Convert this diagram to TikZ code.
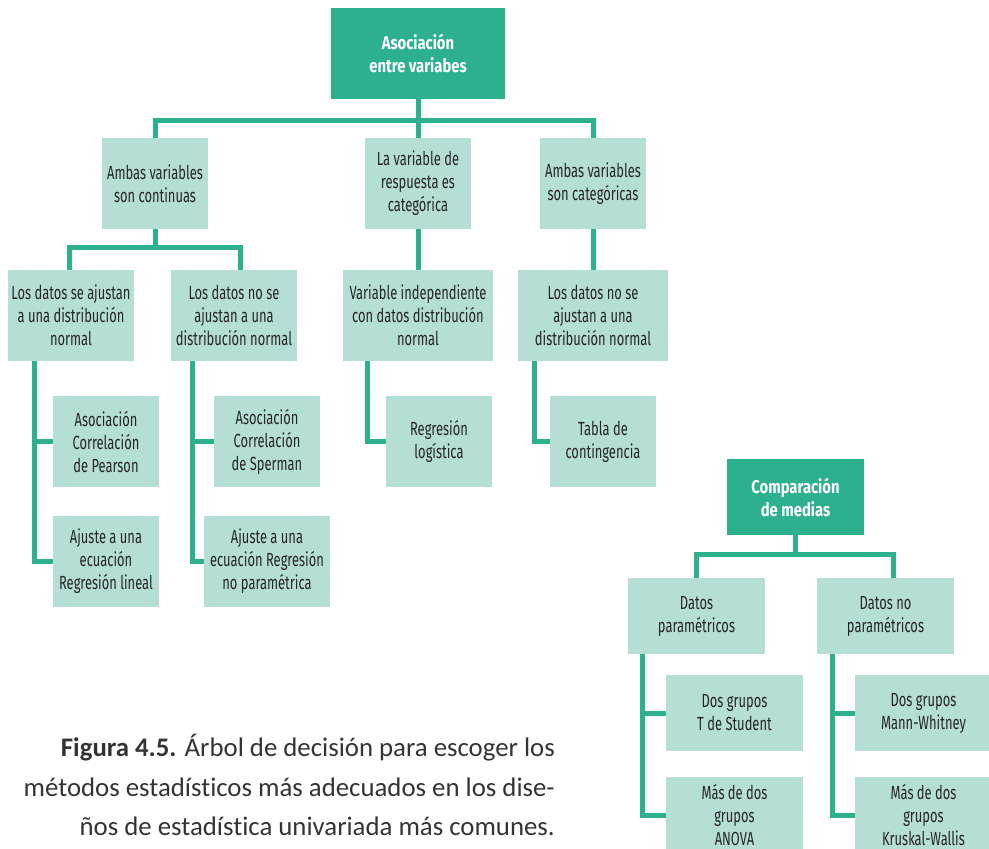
\documentclass[tikz,border=0pt]{standalone}
\usepackage{fontspec}
\setmainfont{Carlito}[Ligatures=NoCommon]
\newfontfamily\boxfont[FakeStretch=0.68]{Fira Sans}
\newfontfamily\rootfont[FakeStretch=0.8]{Fira Sans}
\usetikzlibrary{calc}
\definecolor{tealdark}{HTML}{2DB08C}
\definecolor{teallight}{HTML}{B5DED5}
\definecolor{ink}{HTML}{262626}
\definecolor{captionink}{HTML}{333333}
\tikzset{
  box/.style={fill=teallight, text=ink, inner sep=0pt, align=center,
    font=\boxfont\fontsize{19}{23}\selectfont},
  rootbox/.style={fill=tealdark, text=white, inner sep=0pt, align=center,
    font=\rootfont\bfseries\fontsize{18.5}{23}\selectfont},
  conn/.style={draw=tealdark, line width=5pt, line join=miter},
  wA/.style={minimum width=106pt, minimum height=91pt},
  wB/.style={minimum width=126pt, minimum height=91pt},
  wC/.style={minimum width=150pt, minimum height=91pt},
  wD/.style={minimum width=137pt, minimum height=76pt},
}
\begin{document}
\begin{tikzpicture}[x=1pt,y=-1pt]
\useasboundingbox (0,0) rectangle (989,849);

% ---- tree 1: association between variables ----
\node[rootbox, minimum width=174pt, minimum height=91pt] (root) at (418,53.5) {Asociación\\entre variabes};

\node[box, wA] (c1) at (155,183.5) {Ambas variables\\son continuas};
\node[box, wA] (c2) at (418,183.5) {La variable de\\respuesta es\\categórica};
\node[box, wA] (c3) at (593,183.5) {Ambas variables\\son categóricas};

\node[box, wB] (d1) at (71,315.5) {Los datos se ajustan\\a una distribución\\normal};
\node[box, wB] (d2) at (234,315.5) {Los datos no se\\ajustan a una\\distribución normal};
\node[box, wC] (d3) at (418,315.5) {Variable independiente\\con datos distribución\\normal};
\node[box, wC] (d4) at (593,315.5) {Los datos no se\\ajustan a una\\distribución normal};

\node[box, wA] (e1) at (106,441.5) {Asociación\\Correlación\\de Pearson};
\node[box, wA] (e2) at (106,561.5) {Ajuste a una\\ecuación\\Regresión lineal};
\node[box, wA] (e3) at (267,441.5) {Asociación\\Correlación\\de Sperman};
\node[box, wB] (e4) at (267,561.5) {Ajuste a una\\ecuación Regresión\\no paramétrica};
\node[box, wA] (e5) at (439,441.5) {Regresión\\logística};
\node[box, wA] (e6) at (603,441.5) {Tabla de\\contingencia};

% buses
\coordinate (bus1) at (418,120);
\coordinate (bus2) at (155,247);
\draw[conn] (c1.north) |- (bus1) -| (c3.north);
\draw[conn] (root.south) -- (c2.north);
\draw[conn] ([xshift=-2pt]d1.north) |- (bus2) -| ([xshift=6pt]d2.north);
\draw[conn] (c1.south) -- (bus2);
\draw[conn] (c2.south) -- (d3.north);
\draw[conn] (c3.south) -- (d4.north);

% side spines to the leaves
\coordinate (sp1) at ([xshift=27pt]d1.south west);
\coordinate (sp2) at ([xshift=22pt]d2.south west);
\coordinate (sp3) at ([xshift=25pt]d3.south west);
\coordinate (sp4) at ([xshift=17pt]d4.south west);
\draw[conn] (sp1) |- (e2.west);
\draw[conn] (e1.west) -- (e1.west -| sp1);
\draw[conn] (sp2) |- (e4.west);
\draw[conn] (e3.west) -- (e3.west -| sp2);
\draw[conn] (sp3) |- (e5.west);
\draw[conn] (sp4) |- (e6.west);

% ---- tree 2: comparison of means ----
\node[rootbox, minimum width=137pt, minimum height=76pt] (m) at (795.5,497) {Comparación\\de medias};
\node[box, wD] (f1) at (696.5,616) {Datos\\paramétricos};
\node[box, wD] (f2) at (885.5,616) {Datos no\\paramétricos};
\node[box, wD] (g1) at (734.5,713) {Dos grupos\\T de Student};
\node[box, wD] (g2) at (734.5,815) {Más de dos\\grupos\\ANOVA};
\node[box, wD] (g3) at (923.5,713) {Dos grupos\\Mann-Whitney};
\node[box, wD] (g4) at (923.5,815) {Más de dos\\grupos\\Kruskal-Wallis};

\coordinate (bus3) at (795.5,554);
\draw[conn] (f1.north) |- (bus3) -| ([xshift=7.5pt]f2.north);
\draw[conn] (m.south) -- (bus3);
\coordinate (sp5) at ([xshift=15pt]f1.south west);
\coordinate (sp6) at ([xshift=16pt]f2.south west);
\draw[conn] (sp5) |- (g2.west);
\draw[conn] (g1.west) -- (g1.west -| sp5);
\draw[conn] (sp6) |- (g4.west);
\draw[conn] (g3.west) -- (g3.west -| sp6);

% ---- caption ----
\node[anchor=north east, align=right, text=captionink, inner sep=0pt,
  font=\fontsize{26.8}{39.5}\selectfont] (cap) at (555,734)
  {\textbf{Figura 4.5.} Árbol de decisión para escoger los\\
   métodos estadísticos más adecuados en los dise-\\
   ños de estadística univariada más comunes.};
\end{tikzpicture}
\end{document}
